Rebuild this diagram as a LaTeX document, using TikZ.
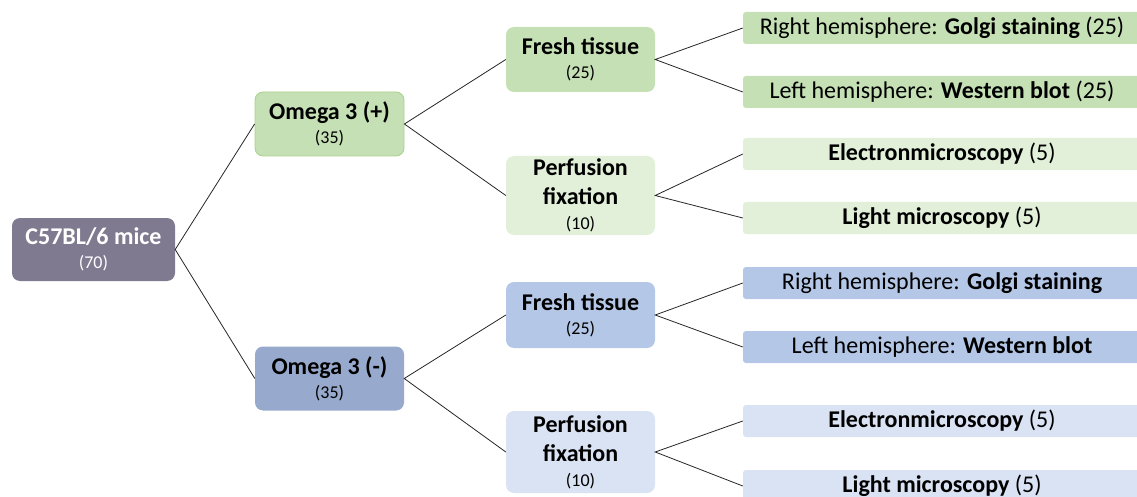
\documentclass[tikz,border=0pt]{standalone}
\usepackage{fontspec}
\setmainfont{Carlito}
\definecolor{rootgray}{HTML}{7F7A8F}
\definecolor{greenA}{HTML}{C5E0B4}
\definecolor{greenB}{HTML}{E2F0D9}
\definecolor{greenline}{HTML}{A9D18E}
\definecolor{blueA}{HTML}{B4C7E7}
\definecolor{blueB}{HTML}{DAE3F3}
\definecolor{blueC}{HTML}{97AACD}
\newcommand{\boxnum}[1]{{\fontsize{18}{20}\selectfont\mdseries #1}}
\begin{document}
\begin{tikzpicture}[x=1pt,y=-1pt,
    box/.style={rounded corners=8pt,minimum width=149pt,minimum height=64pt,align=center,inner sep=2pt,font=\fontsize{24}{29}\selectfont\bfseries},
    leaf/.style={rounded corners=3pt,minimum width=398pt,minimum height=32pt,inner sep=0pt,font=\fontsize{24}{29}\selectfont},
    edge/.style={line width=0.8pt,black!85}]
	      \useasboundingbox (0,0) rectangle (1137,497);
	      % root and the two groups
	      \node[box,fill=rootgray,minimum width=163pt,minimum height=63pt,text=white] (mice) at (93.5,249.5) {C57BL/6 mice\\[-5pt]\boxnum{(70)}};
	      \node[box,fill=greenA,draw=greenline,line width=0.8pt] (omplus) at (329.5,124) {Omega 3 (+)\\[-5pt]\boxnum{(35)}};
	      \node[box,fill=blueC] (omminus) at (329.5,378.5) {Omega 3 (-)\\[-5pt]\boxnum{(35)}};
	      % second level
	      \node[box,fill=greenA,minimum height=65pt] (freshA) at (580.5,59.5) {Fresh tissue\\[-5pt]\boxnum{(25)}};
	      \node[box,fill=greenB,minimum height=79pt] (perfA) at (580.5,195.5) {Perfusion\\fixation\\[-4pt]\boxnum{(10)}};
	      \node[box,fill=blueA,minimum height=66pt] (freshB) at (580.5,315) {Fresh tissue\\[-5pt]\boxnum{(25)}};
	      \node[box,fill=blueB,minimum height=82pt] (perfB) at (580.5,452) {Perfusion\\fixation\\[-4pt]\boxnum{(10)}};
	      % leaves
	      \node[leaf,fill=greenA] (golgiA) at (942,28) {Right hemisphere: \textbf{Golgi staining} (25)};
	      \node[leaf,fill=greenA] (westA) at (942,92) {Left hemisphere: \textbf{Western blot} (25)};
	      \node[leaf,fill=greenB] (emA) at (942,154) {\textbf{Electronmicroscopy} (5)};
	      \node[leaf,fill=greenB] (lmA) at (942,218) {\textbf{Light microscopy} (5)};
	      \node[leaf,fill=blueA] (golgiB) at (942,283) {Right hemisphere: \textbf{Golgi staining}};
	      \node[leaf,fill=blueA] (westB) at (942,347) {Left hemisphere: \textbf{Western blot}};
	      \node[leaf,fill=blueB] (emB) at (942,421) {\textbf{Electronmicroscopy} (5)};
	      \node[leaf,fill=blueB] (lmB) at (942,486) {\textbf{Light microscopy} (5)};
	      % connectors
	      \draw[edge] (omplus.west) -- (mice.east) -- (omminus.west);
	      \draw[edge] (freshA.west) -- (omplus.east) -- (perfA.west);
	      \draw[edge] (freshB.west) -- (omminus.east) -- (perfB.west);
	      \draw[edge] (golgiA.west) -- (freshA.east) -- (westA.west);
	      \draw[edge] (emA.west) -- (perfA.east) -- (lmA.west);
	      \draw[edge] (golgiB.west) -- (freshB.east) -- (westB.west);
	      \draw[edge] (emB.west) -- (perfB.east) -- (lmB.west);
\end{tikzpicture}
\end{document}
